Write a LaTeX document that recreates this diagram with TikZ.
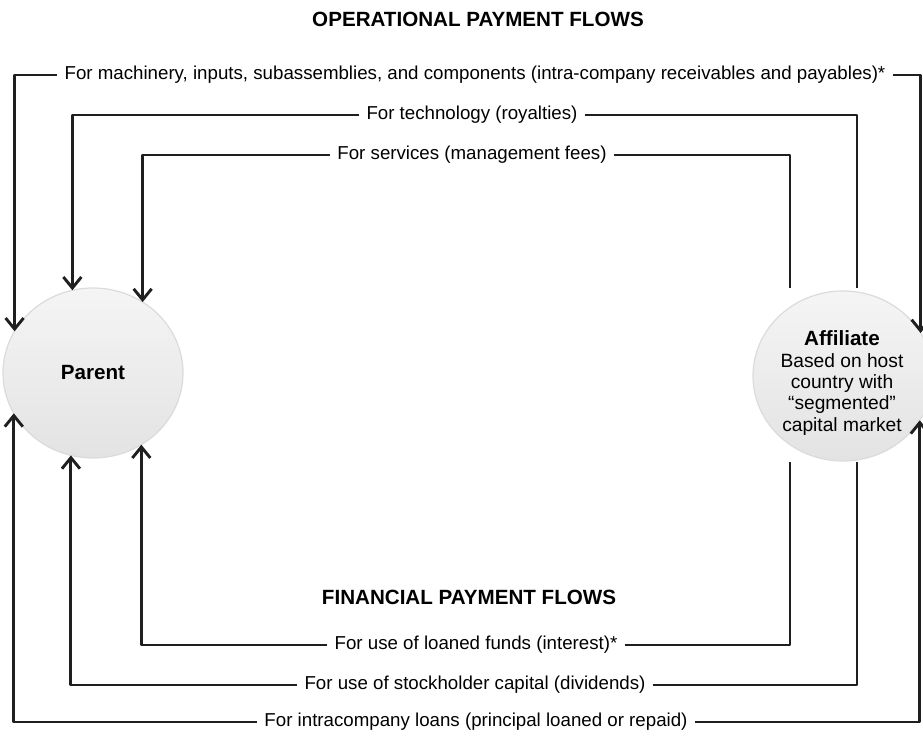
\documentclass[tikz,border=0pt]{standalone}
\usepackage{fontspec}
\setmainfont{Liberation Sans}
\usetikzlibrary{arrows.meta,shapes.geometric}
\begin{document}
\begin{tikzpicture}[x=1pt, y=-1pt, line join=round, >={Straight Barb[length=11pt,width=18pt]},
	flow/.style={line width=2.9pt, draw=black!88},
	lbl/.style={inner xsep=7pt, inner ysep=1pt, font=\fontsize{18.7}{22}\selectfont},
	hdr/.style={font=\fontsize{20.6}{24}\selectfont\bfseries},
	party/.style={ellipse, minimum width=180pt, minimum height=170pt, inner sep=0pt, outer sep=0pt, draw=black!14, line width=1.2pt, top color=black!4, bottom color=black!11, align=center}]
	\useasboundingbox (0,0) rectangle (923,738);
	% the two parties
	\node[party, font=\fontsize{20.6}{24}\selectfont\bfseries] (parent) at (93,373) {Parent};
	\node[party] (affil) at (843,376) {};
	\node[font=\fontsize{19.2}{21.3}\selectfont, align=center] (affiltxt) at (842,383) {\textbf{\fontsize{20.6}{21.3}\selectfont Affiliate}\\Based on host\\country with\\“segmented”\\capital market};
	% headings
	\node[hdr] (ops) at (478,19) {OPERATIONAL PAYMENT FLOWS};
	\node[hdr] (fin) at (469,597) {FINANCIAL PAYMENT FLOWS};
	% flow labels
	\node[lbl] (mach) at (475,75) {For machinery, inputs, subassemblies, and components (intra-company receivables and payables)*};
	\node[lbl] (tech) at (472,115) {For technology (royalties)};
	\node[lbl] (serv) at (472,155) {For services (management fees)};
	\node[lbl] (intr) at (476,645) {For use of loaned funds (interest)*};
	\node[lbl] (divi) at (475,685) {For use of stockholder capital (dividends)};
	\node[lbl] (loan) at (476,722) {For intracompany loans (principal loaned or repaid)};
	% free ends above and below the affiliate
	\coordinate (techend) at (857,288); \coordinate (servend) at (790,288);
	\coordinate (intrend) at (790,462); \coordinate (diviend) at (857,462);
	% operational flows
	\draw[flow,->] (mach.west) -| (parent.152.7);
	\draw[flow,->] (mach.east) -| (affil.29.7);
	\draw[flow,->] (tech.west) -| (parent.104.3);
	\draw[flow] (tech.east) -| (techend);
	\draw[flow,->] (serv.west) -| (parent.55.5);
	\draw[flow] (serv.east) -| (servend);
	% financial flows
	\draw[flow,->] (intr.west) -| (parent.304.5);
	\draw[flow] (intr.east) -| (intrend);
	\draw[flow,->] (divi.west) -| (parent.255.7);
	\draw[flow] (divi.east) -| (diviend);
	\draw[flow,->] (loan.west) -| (parent.207.3);
	\draw[flow,->] (loan.east) -| (affil.330.3);
\end{tikzpicture}
\end{document}
